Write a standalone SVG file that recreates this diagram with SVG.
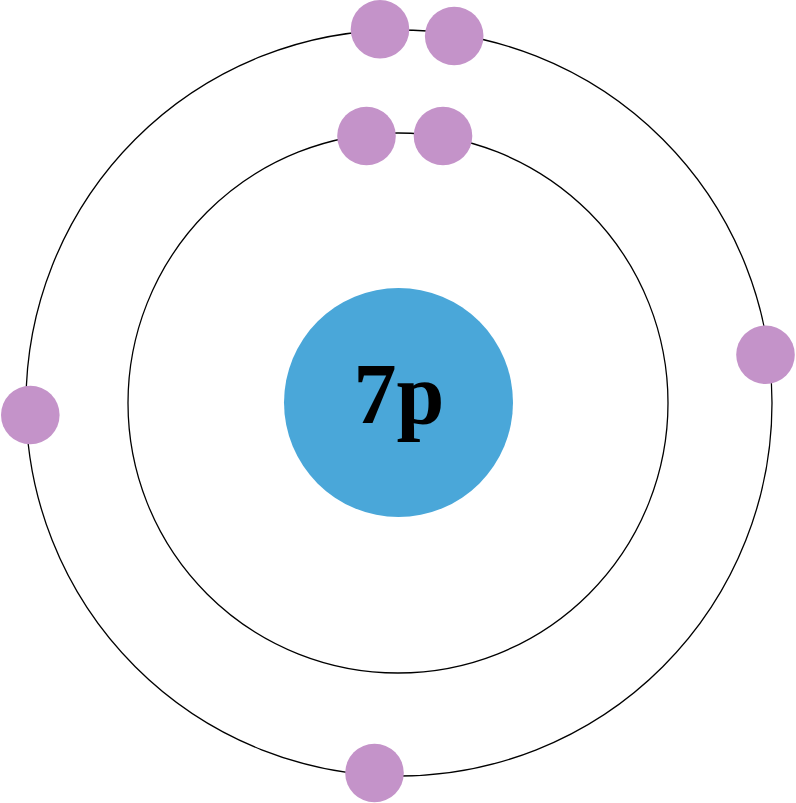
<svg xmlns="http://www.w3.org/2000/svg" width="796" height="803" viewBox="0 0 796 803">
<style>
.orbit{fill:none;stroke:#000;stroke-width:1.3}
.e{fill:#C493C9}
.n{fill:#4AA7D9}
.t{font-family:"Liberation Serif","Times New Roman",serif;font-weight:bold;font-size:86px;fill:#000}
</style>
<rect width="796" height="803" fill="#fff"/>
<g id="orbits">
<circle id="shell2" class="orbit" cx="399" cy="403" r="373"/>
<circle id="shell1" class="orbit" cx="398" cy="403" r="270"/>
</g>
<g id="nucleus">
<circle class="n" cx="398.5" cy="402.5" r="114.5"/>
<text class="t" x="399" y="423" text-anchor="middle">7p</text>
</g>
<g id="electrons">
<circle class="e" cx="380" cy="29.3" r="29.3"/>
<circle class="e" cx="454.2" cy="36" r="29.3"/>
<circle class="e" cx="366.5" cy="136" r="29.3"/>
<circle class="e" cx="443" cy="136" r="29.3"/>
<circle class="e" cx="765.5" cy="354.7" r="29.3"/>
<circle class="e" cx="30.3" cy="415" r="29.3"/>
<circle class="e" cx="374.5" cy="773" r="29.3"/>
</g>
</svg>
